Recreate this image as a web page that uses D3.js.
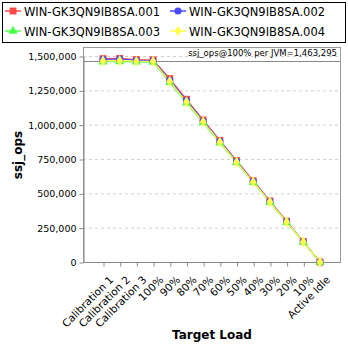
<!DOCTYPE html>
<html lang="en">
<head>
<meta charset="UTF-8">
<title>ssj_ops per JVM</title>
<script src="https://cdn.jsdelivr.net/npm/d3@7"></script>
<style>
body { margin: 0; background: #fff; font-family: 'DejaVu Sans', sans-serif; }
svg text { fill: #000; }
</style>
</head>
<body>
<svg width="348" height="348"></svg>
<script>
// chart data
const categories = ["Calibration 1", "Calibration 2", "Calibration 3", "100%", "90%", "80%", "70%",
  "60%", "50%", "40%", "30%", "20%", "10%", "Active Idle"];
const seriesNames = ["WIN-GK3QN9IB8SA.001", "WIN-GK3QN9IB8SA.002", "WIN-GK3QN9IB8SA.003", "WIN-GK3QN9IB8SA.004"];
const jvm001 = [1481000, 1482000, 1474000, 1472000, 1336000, 1185000, 1034000, 886000, 738000, 592000, 445000, 297000, 149000, 0];
const jvm002 = [1476000, 1478000, 1468000, 1466000, 1325000, 1177000, 1027000, 880000, 733000, 587000, 441000, 294000, 147000, 0];
const jvm003 = [1458000, 1459000, 1457000, 1456000, 1308000, 1158000, 1015000, 868000, 723000, 579000, 434000, 289000, 145000, 0];
const jvm004 = [1464000, 1466000, 1462000, 1461000, 1316000, 1166000, 1021000, 874000, 728000, 583000, 438000, 292000, 146000, 0];
const yTicks = [0, 250000, 500000, 750000, 1000000, 1250000, 1500000];
const refValue = 1463295;

const series = [jvm001, jvm002, jvm003, jvm004];
const colors = ["#ff4a4a", "#4a4aff", "#4aff4a", "#ffff4a"];
const shapes = [d3.symbolSquare, d3.symbolCircle, d3.symbolTriangle, d3.symbolDiamond];
const sizes = [48, 40, 36, 36];

const svg = d3.select("svg");
const plotL = 83, plotR = 340, plotT = 47, plotB = 262;

const x = d3.scalePoint().domain(categories).range([103, 320]);
const y = d3.scaleLinear().domain([0, 1500000]).range([plotB, 56]);

// legend
const legend = svg.append("g");
legend.append("rect").attr("x", 2.5).attr("y", 2.5).attr("width", 343).attr("height", 40)
  .attr("fill", "#fff").attr("stroke", "#000");
seriesNames.forEach((name, i) => {
  const lx = i % 2 === 0 ? 5 : 170, ly = i < 2 ? 11 : 31;
  const g = legend.append("g");
  g.append("line").attr("x1", lx).attr("x2", lx + 16).attr("y1", ly).attr("y2", ly)
    .attr("stroke", colors[i]).attr("stroke-width", 1.5);
  g.append("path").attr("d", d3.symbol(shapes[i], sizes[i])())
    .attr("transform", `translate(${lx + 8},${ly})`).attr("fill", colors[i]);
  g.append("text").attr("x", lx + 19).attr("y", ly + 4.5).attr("font-size", 11.5).text(name);
});

// grid
svg.append("g").selectAll("line").data(yTicks.slice(1)).join("line")
  .attr("x1", plotL).attr("x2", plotR).attr("y1", d => y(d) + 0.5).attr("y2", d => y(d) + 0.5)
  .attr("stroke", "#d0d0d0").attr("stroke-dasharray", "3,3");

// plot frame
svg.append("rect").attr("x", plotL + 0.5).attr("y", plotT + 0.5).attr("width", plotR - plotL).attr("height", plotB - plotT)
  .attr("fill", "none").attr("stroke", "#999");

// axes
const yAxis = svg.append("g").attr("transform", `translate(${plotL + 0.5},0.5)`)
  .call(d3.axisLeft(y).tickValues(yTicks).tickFormat(d3.format(",")).tickSize(4).tickSizeOuter(0));
yAxis.selectAll("text").attr("font-size", 9.5).attr("font-family", "DejaVu Sans");
yAxis.selectAll("line, path").attr("stroke", "#888");

const xAxis = svg.append("g").attr("transform", `translate(0.5,${plotB + 0.5})`)
  .call(d3.axisBottom(x).tickSize(4).tickSizeOuter(0));
xAxis.select(".domain").attr("d", `M${plotL},0H${plotR}`).attr("stroke", "#888");
xAxis.selectAll("line").attr("stroke", "#888");
xAxis.selectAll("text").attr("font-size", 10.5).attr("font-family", "DejaVu Sans")
  .attr("text-anchor", "end").attr("dx", 0).attr("dy", 0)
  .attr("transform", "translate(5,13) rotate(-45)");

// reference line
svg.append("line").attr("x1", plotL).attr("x2", plotR).attr("y1", Math.round(y(refValue)) + 0.5)
  .attr("y2", Math.round(y(refValue)) + 0.5).attr("stroke", "#888");
svg.append("text").attr("x", 337).attr("y", 56).attr("text-anchor", "end").attr("font-size", 8.5)
  .text("ssj_ops@100% per JVM=1,463,295");

// series
const line = d3.line().x((d, i) => x(categories[i])).y(d => y(d));
series.forEach((vals, i) => {
  svg.append("path").datum(vals).attr("d", line).attr("fill", "none")
    .attr("stroke", colors[i]).attr("stroke-width", 1.2);
});
series.forEach((vals, i) => {
  svg.append("g").selectAll("path").data(vals).join("path")
    .attr("d", d3.symbol(shapes[i], sizes[i])())
    .attr("transform", (d, j) => `translate(${x(categories[j])},${y(d)})`)
    .attr("fill", colors[i]);
});

// titles
svg.append("text").attr("transform", "translate(22,155) rotate(-90)").attr("text-anchor", "middle")
  .attr("font-size", 12).attr("font-weight", "bold").text("ssj_ops");
svg.append("text").attr("x", 212).attr("y", 339).attr("text-anchor", "middle")
  .attr("font-size", 12).attr("font-weight", "bold").text("Target Load");
</script>
</body>
</html>
